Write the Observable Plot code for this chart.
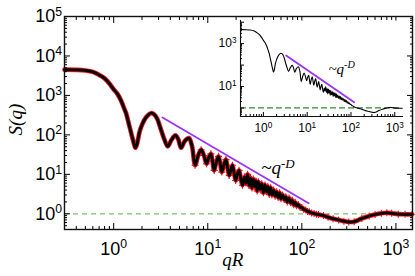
<!DOCTYPE html>
<html><head><meta charset="utf-8">
<script src="https://cdn.jsdelivr.net/npm/d3@7"></script>
<script src="https://cdn.jsdelivr.net/npm/@observablehq/plot@0.6"></script>
<style>
body{margin:0;background:#fff;}
#wrap{position:relative;width:415px;height:276px;overflow:hidden;background:#fff;}
#main{position:absolute;left:0;top:0;}
#inset{position:absolute;left:200px;top:8px;}
</style></head><body><div id="wrap"><div id="main"></div><div id="inset"></div></div>
<script>
// ---- data ----
const qValues = [0.3,0.4,0.5,0.6,0.7,0.8,0.9,1.0,1.1,1.2,
  1.3,1.36,1.45,1.54,1.62,1.7,1.78,1.88,2.0,2.2,
  2.5,2.7,2.9,3.2,3.45,3.76,4.1,4.53,4.85,5.2,
  5.7,6.3,6.8,7.33,7.9,8.5,9.1,9.7,10.2,10.8,
  11.2,11.7,12.3,13.0,13.6,14.1,14.8,15.6,16.2,16.9,
  17.6,18.3,19.0,19.8,20.6,21.5,22.4,23.4,
  24.5,25.5,26.5,27.5,28.5,29.5,30.5,31.5,32.5,33.5,
  34.5,36,37.5,39,40.5,42,43.5,45,46.5,48,
  50,52,54,56,58,60,62.5,65,67.5,70,
  73,76,79,82,85,88,92,96,100,105,
  110,115,120,127,135,143,150,
  170,190,215,246,280,315,360,434,520,600,700,800,900,1060,1250,1480];
const sValues = [4500,4450,4300,3950,3300,2700,2000,1420,1080,730,
  450,344,188,107,68,47,62,118,180,275,
  355,330,255,130,78,51,74,97,78,47,
  70,83,52,17,30,42,30,18.6,26,33,
  22,12.6,20,28.6,18,11.4,17,23.6,15,9.4,
  13,17,11,7,10,12.6,8,5.3,
  8.5,6.0,10.0,5.2,8.0,4.5,7.6,5.0,6.8,3.8,
  6.5,4.2,5.8,3.4,5.4,3.6,4.9,3.1,4.6,3.0,
  4.0,2.8,3.6,2.6,3.4,2.4,3.0,2.3,2.7,2.0,
  2.5,1.9,2.2,1.7,1.95,1.6,1.7,1.45,1.45,1.28,
  1.25,1.15,1.12,1.05,1.02,0.98,0.96,
  0.9,0.82,0.75,0.70,0.65,0.62,0.63,0.76,0.88,0.96,1.03,1.06,1.03,0.98,0.97,0.97];
const scatterFromQ = 7;
const slopeQ = [3.3, 118];
const slopeS = [277, 1.85];
const referenceLevel = [1];
const xMajorTicks = [1, 10, 100, 1000];
const yMajorTicks = [1, 10, 100, 1000, 10000, 100000];
const insetYMajorTicks = [1, 10, 100, 1000, 10000];
const insetYLabelled = [10, 1000];
const minorMultipliers = [2,3,4,5,6,7,8,9];
const powerLawLabel = "~q^-D";
const xLabel = "qR";
const yLabel = "S(q)";

// ---- helpers ----
const curve = qValues.map((q, i) => ({q, s: sValues[i]}));
const scatter = curve.filter(d => d.q >= scatterFromQ);
const slope = slopeQ.map((q, i) => ({q, s: slopeS[i]}));
function minorTicks(domain) {
  const out = [];
  for (let e = Math.floor(Math.log10(domain[0])) - 1; e <= Math.ceil(Math.log10(domain[1])); e++)
    for (const m of minorMultipliers) {
      const v = m * Math.pow(10, e);
      if (v >= domain[0] * 0.999 && v <= domain[1] * 1.001) out.push(v);
    }
  return out;
}
const pow10 = d => "10^" + Math.round(Math.log10(d));
const blank = () => "";
const sans = "Liberation Sans, Arial, Helvetica, sans-serif";
const serif = "Liberation Serif, Times New Roman, serif";

function supify(svg) {
  d3.select(svg).selectAll("text").each(function () {
    const s = this.textContent;
    if (!s.includes("^")) return;
    const fs = parseFloat(getComputedStyle(this).fontSize) || 12;
    const [base, sup] = s.split("^");
    const t = d3.select(this);
    t.text(null);
    t.append("tspan").text(base);
    t.append("tspan").attr("dy", (-0.36 * fs) + "px").attr("font-size", (0.68 * fs) + "px").text(sup);
  });
}

// ---- main chart ----
const xDom = [0.3, 1500], yDom = [0.4, 1e5];
const main = Plot.plot({
  width: 415, height: 276,
  marginLeft: 64, marginRight: 3, marginTop: 16, marginBottom: 47,
  x: {type: "log", domain: xDom},
  y: {type: "log", domain: yDom},
  style: {background: "transparent", fontFamily: sans, color: "black"},
  marks: [
    Plot.ruleY(referenceLevel, {stroke: "#7dbf69", strokeWidth: 1.3, strokeDasharray: "5,4"}),
    Plot.line(curve, {x: "q", y: "s", stroke: "#e8101a", strokeWidth: 4.6, curve: "catmull-rom"}),
    Plot.dot(scatter, {x: "q", y: "s", symbol: "plus", r: 2.4, stroke: "#e8101a", strokeWidth: 1.1}),
    Plot.line(curve, {x: "q", y: "s", stroke: "black", strokeWidth: 2.8, curve: "catmull-rom"}),
    Plot.line(slope, {x: "q", y: "s", stroke: "#9933ff", strokeWidth: 1.8}),
    Plot.text([powerLawLabel], {x: () => 37, y: () => 10, text: d => d, textAnchor: "start", lineAnchor: "bottom",
      fontFamily: serif, fontStyle: "italic", fontSize: 19}),
    Plot.text([yLabel], {y: () => 97, frameAnchor: "left", dx: -49, rotate: -90, text: d => d,
      fontFamily: serif, fontStyle: "italic", fontSize: 19}),
    Plot.text([xLabel], {x: () => 18.4, frameAnchor: "bottom", dy: 36, text: d => d,
      fontFamily: serif, fontStyle: "italic", fontSize: 19}),
    // inward ticks on all four sides
    Plot.axisX({anchor: "bottom", ticks: xMajorTicks, tickSize: -6, tickFormat: blank, label: null}),
    Plot.axisX({anchor: "bottom", ticks: minorTicks(xDom), tickSize: -3, tickFormat: blank, label: null}),
    Plot.axisX({anchor: "top", ticks: xMajorTicks, tickSize: -6, tickFormat: blank, label: null}),
    Plot.axisX({anchor: "top", ticks: minorTicks(xDom), tickSize: -3, tickFormat: blank, label: null}),
    Plot.axisY({anchor: "left", ticks: yMajorTicks, tickSize: -6, tickFormat: blank, label: null}),
    Plot.axisY({anchor: "left", ticks: minorTicks(yDom), tickSize: -3, tickFormat: blank, label: null}),
    Plot.axisY({anchor: "right", ticks: yMajorTicks, tickSize: -6, tickFormat: blank, label: null}),
    Plot.axisY({anchor: "right", ticks: minorTicks(yDom), tickSize: -3, tickFormat: blank, label: null}),
    Plot.axisX({anchor: "bottom", ticks: xMajorTicks, tickSize: 0, tickPadding: 12.5, tickFormat: pow10, fontSize: 18, label: null}),
    Plot.axisY({anchor: "left", ticks: yMajorTicks, tickSize: 0, tickPadding: 2.5, tickFormat: pow10, fontSize: 18, label: null}),
    Plot.frame({stroke: "#111", strokeWidth: 1.4})
  ]
});
document.getElementById("main").append(main);
supify(main);

// ---- inset ----
const ixDom = [0.3, 1500], iyDom = [0.4, 1.2e4];
const inset = Plot.plot({
  width: 212, height: 130,
  marginLeft: 40, marginRight: 10, marginTop: 12, marginBottom: 22,
  x: {type: "log", domain: ixDom},
  y: {type: "log", domain: iyDom},
  style: {background: "transparent", fontFamily: sans, color: "black"},
  marks: [
    Plot.frame({fill: "white", stroke: null}),
    Plot.ruleY(referenceLevel, {stroke: "#2e8a2e", strokeWidth: 1.3, strokeDasharray: "6,3"}),
    Plot.line(curve, {x: "q", y: "s", stroke: "black", strokeWidth: 1.1, curve: "catmull-rom"}),
    Plot.line(slope, {x: "q", y: "s", stroke: "#9933ff", strokeWidth: 1.8}),
    Plot.text([powerLawLabel], {x: () => 30.6, y: () => 40, text: d => d, textAnchor: "start", lineAnchor: "bottom",
      fontFamily: serif, fontStyle: "italic", fontSize: 15}),
    Plot.axisX({anchor: "bottom", ticks: xMajorTicks, tickSize: -4, tickFormat: blank, label: null}),
    Plot.axisX({anchor: "bottom", ticks: minorTicks(ixDom), tickSize: -2, tickFormat: blank, label: null}),
    Plot.axisY({anchor: "left", ticks: insetYMajorTicks, tickSize: -4, tickFormat: blank, label: null}),
    Plot.axisY({anchor: "left", ticks: minorTicks(iyDom), tickSize: -2, tickFormat: blank, label: null}),
    Plot.axisX({anchor: "bottom", ticks: xMajorTicks, tickSize: 0, tickPadding: 7, tickFormat: pow10, fontSize: 12, label: null}),
    Plot.axisY({anchor: "left", ticks: insetYLabelled, tickSize: 0, tickPadding: 4, tickFormat: pow10, fontSize: 12, label: null}),
    Plot.frame({anchor: "left", stroke: "#111", strokeWidth: 1.1}),
    Plot.frame({anchor: "bottom", stroke: "#111", strokeWidth: 1.1})
  ]
});
document.getElementById("inset").append(inset);
supify(inset);
</script></body></html>
